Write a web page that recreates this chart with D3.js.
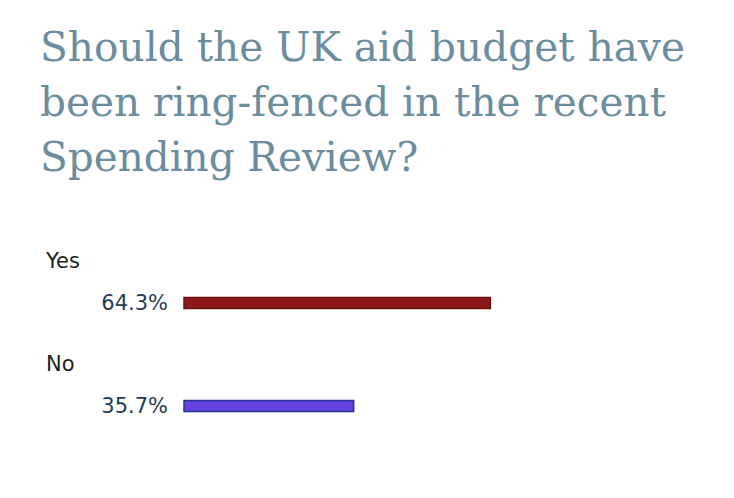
<!DOCTYPE html>
<html><head><meta charset="utf-8">
<script src="https://cdn.jsdelivr.net/npm/d3@7"></script>
<style>body{margin:0;background:#fff}</style>
</head><body>
<script>
var titleLines = ["Should the UK aid budget have", "been ring-fenced in the recent", "Spending Review?"];
var answers = ["Yes", "No"];
var shares = [64.3, 35.7];
var fills = ["#8c1818", "#6441e0"];
var strokes = ["#6a1010", "#23358f"];

var svg = d3.select("body").append("svg").attr("width", 734).attr("height", 498);

svg.selectAll("text.title").data(titleLines).enter().append("text")
	.attr("class", "title")
	.attr("x", 40)
	.attr("y", function (d, i) { return 61 + i * 55; })
	.attr("textLength", function (d, i) { return [645, 626, 0][i] || null; })
	.style("font-family", "'DejaVu Serif', 'Liberation Serif', serif")
	.style("font-size", "40.5px")
	.style("fill", "#6b8d9e")
	.text(function (d) { return d; });

var x = d3.scaleLinear().domain([0, 100]).range([0, 478]);
var rowY = d3.scaleBand().domain(answers).range([245, 451]);

var rows = svg.selectAll("g.row").data(answers).enter().append("g")
	.attr("transform", function (d) { return "translate(0," + rowY(d) + ")"; });

rows.append("text")
	.attr("x", 46).attr("y", 23)
	.style("font-family", "'DejaVu Sans', Verdana, sans-serif")
	.style("font-size", "21px")
	.style("fill", "#222")
	.text(function (d) { return d; });

rows.append("text")
	.attr("x", 168).attr("y", 65)
	.attr("text-anchor", "end")
	.style("font-family", "'DejaVu Sans', Verdana, sans-serif")
	.style("font-size", "21px")
	.style("fill", "#1f3b57")
	.text(function (d, i) { return shares[i].toFixed(1) + "%"; });

rows.append("rect")
	.attr("x", 184).attr("y", 52.5)
	.attr("width", function (d, i) { return x(shares[i]) - 1; })
	.attr("height", 11)
	.style("fill", function (d, i) { return fills[i]; })
	.style("stroke", function (d, i) { return strokes[i]; })
	.style("stroke-width", 1.5);
</script>
</body></html>
